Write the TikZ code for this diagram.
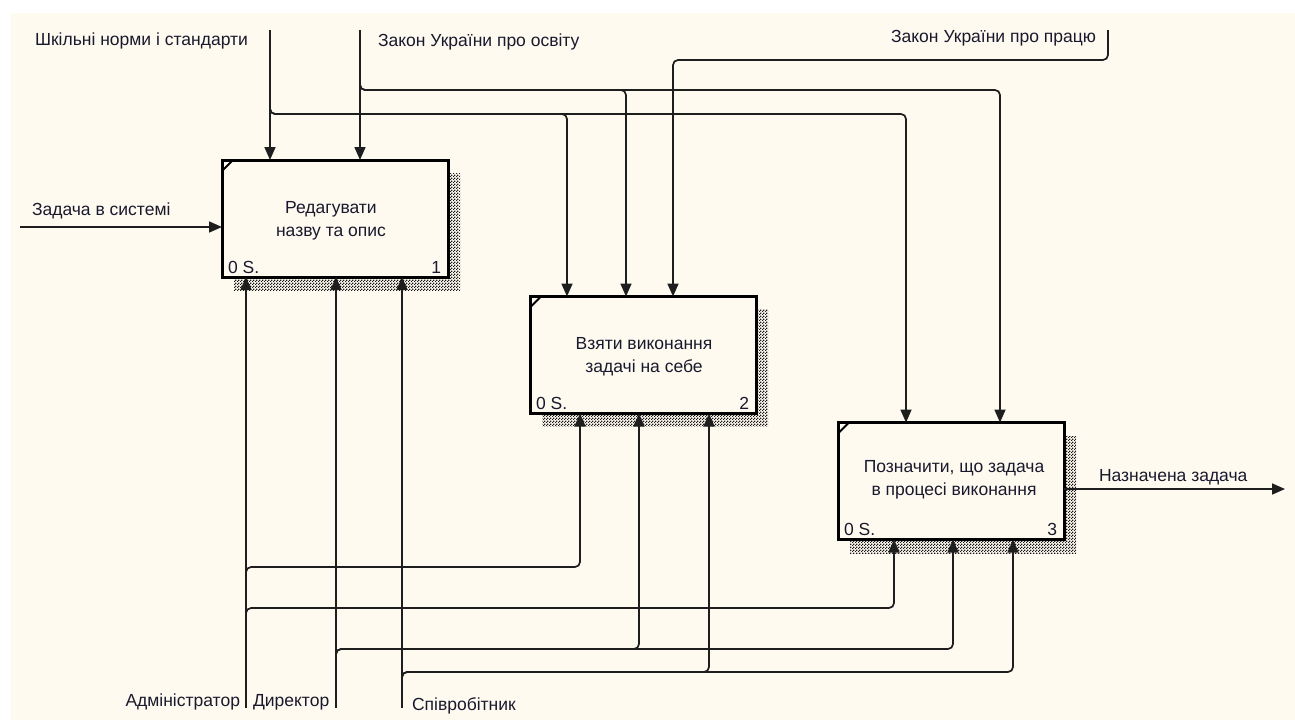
\documentclass[tikz,border=0pt]{standalone}
\usepackage{fontspec}
\setmainfont{Liberation Sans}
\usetikzlibrary{arrows.meta,patterns,calc}
\definecolor{paper}{RGB}{255,250,240}
\definecolor{ink}{RGB}{25,25,45}
\definecolor{wire}{RGB}{30,30,30}

% fine checkerboard used for the drop shadows
\pgfdeclarepatternformonly{checker}{\pgfpointorigin}{\pgfpoint{3pt}{3pt}}{\pgfpoint{3pt}{3pt}}{%
  \pgfpathrectangle{\pgfpointorigin}{\pgfpoint{1.5pt}{1.5pt}}%
  \pgfpathrectangle{\pgfpoint{1.5pt}{1.5pt}}{\pgfpoint{1.5pt}{1.5pt}}%
  \pgfusepath{fill}}

\begin{document}
\begin{tikzpicture}[x=1pt,y=-1pt,
  every node/.style={font=\fontsize{17.5}{23}\selectfont, text=ink, inner sep=0pt, outer sep=0pt},
  func/.style={draw=black, line width=3pt, fill=paper, minimum width=226pt, minimum height=117pt},
  ftext/.style={align=center, anchor=base},
  shadowbox/.style={pattern=checker, pattern color=black!90},
  wire/.style={draw=wire, line width=1.7pt, rounded corners=5pt},
  arr/.style={wire, -{Triangle[length=13pt,width=11pt]}},
  lblw/.style={anchor=base west},
  lble/.style={anchor=base east},
  tick/.style={draw=black, line width=2pt},
]
% canvas
\useasboundingbox (0,0) rectangle (1295,720);
\fill[white] (0,0) rectangle (1295,720);
\fill[paper] (11,13) rectangle (1295,720);

% drop shadows of the activity boxes
\fill[shadowbox] (234,173) rectangle (460,290);
\fill[shadowbox] (542,309) rectangle (768,426);
\fill[shadowbox] (850,436) rectangle (1076,553);

% activity boxes
\node[func] (b1) at (335,218.5) {};
\node[func] (b2) at (643,355) {};
\node[func] (b3) at (951,481) {};
\node[ftext] (b1-t) at (331,236) {Редагувати\\назву та опис};
\node[ftext] (b2-t) at (644,372) {Взяти виконання\\задачі на себе};
\node[ftext] (b3-t) at (954,495) {Позначити, що задача\\в процесі виконання};

\foreach \b/\n in {b1/1,b2/2,b3/3}{
  \draw[tick] ($(\b.north west)+(0,11)$) -- ($(\b.north west)+(11,0)$);
  \node[lblw] (\b-cost) at ($(\b.south west)+(6,-4)$) {0 S.};
  \node[lble] (\b-num) at ($(\b.south east)+(-7,-4)$) {\n};
}

% boundary ends of the arrows
\coordinate (c1) at (270,30);
\coordinate (c2) at (360,30);
\coordinate (c3) at (1108,30);
\coordinate (i1) at (20,227);
\coordinate (o1) at (1285,489);
\coordinate (m1) at (246,708);
\coordinate (m2) at (336,708);
\coordinate (m3) at (402,708);

% rows where the arrows branch
\coordinate (rowA) at (0,114);
\coordinate (rowB) at (0,90);
\coordinate (rowC) at (0,60);
\coordinate (rowD) at (0,567);
\coordinate (rowE) at (0,608);
\coordinate (rowF) at (0,649);
\coordinate (rowG) at (0,672);

% controls
\draw[arr] (c1) -- (c1 |- b1.north);
\draw[arr] ($(c1 |- rowA)+(0,-6)$) -- (c1 |- rowA) -| ($(b2.north west)+(37,0)$);
\draw[arr] ($(c1 |- rowA)+(0,-6)$) -- (c1 |- rowA) -| ($(b3.north west)+(68,0)$);
\draw[arr] (c2) -- (c2 |- b1.north);
\draw[arr] ($(c2 |- rowB)+(0,-6)$) -- (c2 |- rowB) -| ($(b2.north west)+(96,0)$);
\draw[arr] ($(c2 |- rowB)+(0,-6)$) -- (c2 |- rowB) -| ($(b3.north west)+(162,0)$);
\draw[arr] (c3) -- (c3 |- rowC) -| ($(b2.north west)+(143,0)$);

% input and output
\draw[arr] (i1) -- (i1 -| b1.west);
\draw[arr] (o1 -| b3.east) -- (o1);

% mechanisms
\draw[arr] (m1) -- (m1 |- b1.south);
\draw[arr] ($(m1 |- rowD)+(0,6)$) -- (m1 |- rowD) -| ($(b2.south west)+(50,0)$);
\draw[arr] ($(m1 |- rowE)+(0,6)$) -- (m1 |- rowE) -| ($(b3.south west)+(56,0)$);
\draw[arr] (m2) -- (m2 |- b1.south);
\draw[arr] ($(m2 |- rowF)+(0,6)$) -- (m2 |- rowF) -| ($(b2.south west)+(109,0)$);
\draw[arr] ($(m2 |- rowF)+(0,6)$) -- (m2 |- rowF) -| ($(b3.south west)+(115,0)$);
\draw[arr] (m3) -- (m3 |- b1.south);
\draw[arr] ($(m3 |- rowG)+(0,6)$) -- (m3 |- rowG) -| ($(b2.south west)+(179,0)$);
\draw[arr] ($(m3 |- rowG)+(0,6)$) -- (m3 |- rowG) -| ($(b3.south west)+(175,0)$);

% arrow labels
\node[lblw] (t1) at (35,45) {Шкільні норми і стандарти};
\node[lblw] (t2) at (378,46) {Закон України про освіту};
\node[lble] (t3) at (1096,42) {Закон України про працю};
\node[lblw] (t4) at (32,215) {Задача в системі};
\node[lblw] (t5) at (1099,481) {Назначена задача};
\node[lble] (t6) at (240,706) {Адміністратор};
\node[lblw] (t7) at (253,706) {Директор};
\node[lblw] (t8) at (412,710) {Співробітник};
\end{tikzpicture}
\end{document}
